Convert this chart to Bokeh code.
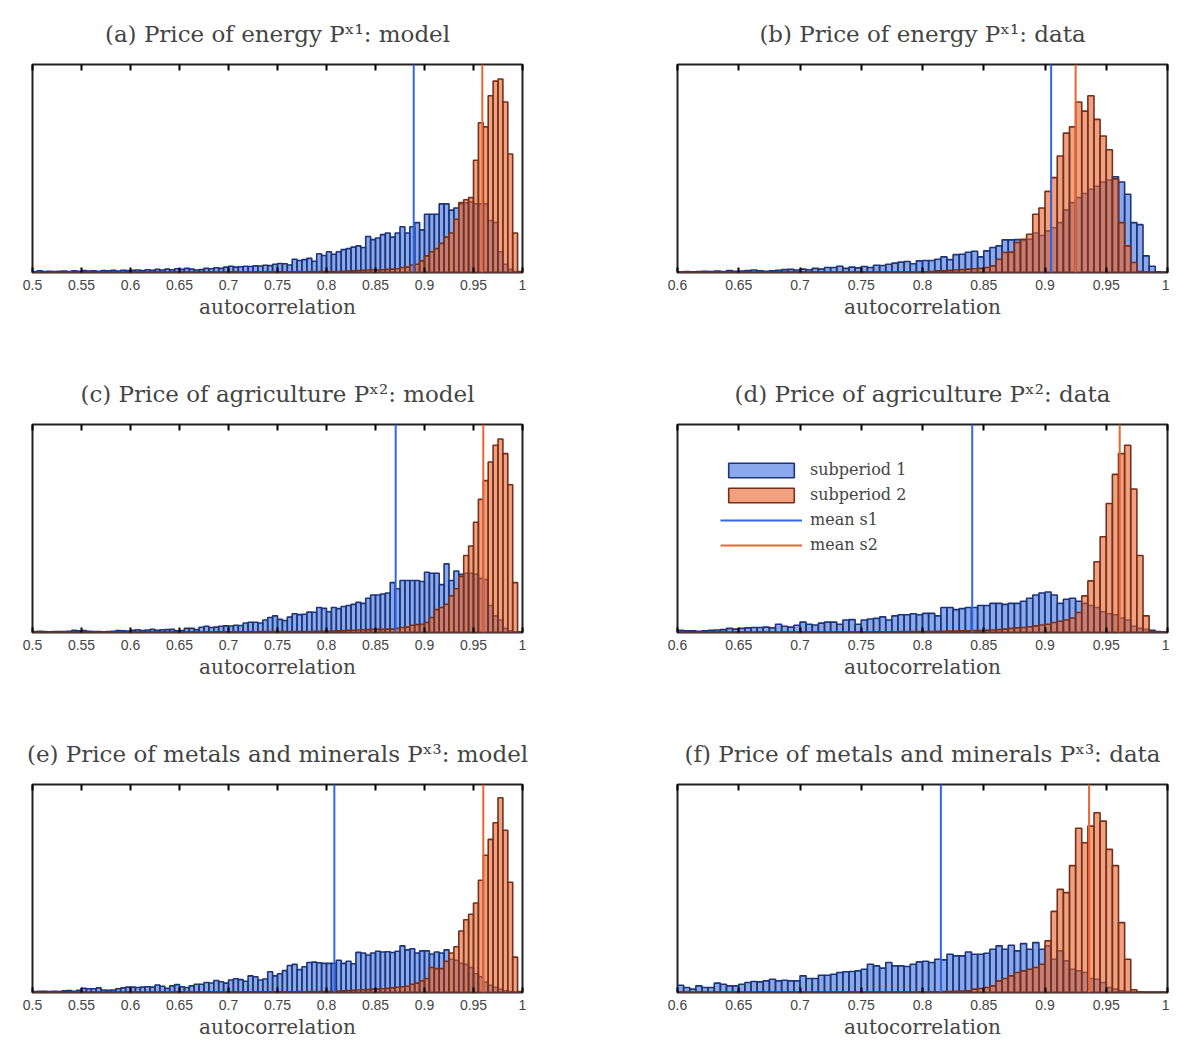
import numpy as np
from bokeh.plotting import figure
from bokeh.layouts import column, row
from bokeh.models import LinearAxis, FixedTicker, NumeralTickFormatter, Legend, LegendItem
from bokeh.embed import file_html
from bokeh.resources import INLINE

# histogram heights, in % of the y range; bins are 0.005 wide
# model panels: 100 bins from 0.5; data panels: 80 bins from 0.6
blue_a = [0.5,0.8,0.5,0.6,0.5,0.6,0.7,0.5,0.8,0.6,
          0.9,0.7,0.8,0.6,0.9,0.8,1.0,0.7,1.1,0.9,
          1.0,1.2,0.9,1.3,1.1,1.5,1.2,1.6,1.3,1.8,
          1.5,2.0,1.6,1.2,1.4,2.0,1.8,2.3,2.0,2.6,
          3.0,2.6,2.8,3.0,2.9,3.2,3.1,3.5,3.3,4.0,
          4.3,4.2,3.6,6.4,5.8,6.2,6.8,5.4,9.0,8.2,
          10.0,8.8,10.0,11.0,11.5,12.2,12.8,12.0,17.3,15.8,
          16.6,18.2,19.0,17.0,19.0,22.0,19.0,22.0,24.0,20.5,
          28.0,28.0,28.0,33.0,33.0,30.0,31.0,33.0,33.5,34.0,
          33.0,33.0,33.0,25.0,24.0,10.0,4.0,1.5,0.5,0.2]
orange_a = [0.2,0.2,0.1,0.2,0.2,0.1,0.2,0.2,0.2,0.1,
            0.2,0.1,0.2,0.2,0.1,0.2,0.2,0.2,0.1,0.2,
            0.2,0.2,0.1,0.2,0.2,0.2,0.2,0.1,0.2,0.2,
            0.2,0.2,0.2,0.2,0.2,0.2,0.2,0.2,0.2,0.2,
            0.2,0.3,0.2,0.3,0.2,0.3,0.3,0.3,0.3,0.3,
            0.3,0.3,0.3,0.3,0.4,0.3,0.4,0.4,0.4,0.4,
            0.4,0.5,0.5,0.6,0.7,0.8,0.9,1.0,1.2,1.3,
            1.2,1.3,1.5,1.6,1.8,2.4,2.6,3.6,4.0,5.6,
            8.0,10.0,11.5,14.0,17.0,19.0,25.6,33.6,35.0,36.0,
            54.0,72.0,70.0,85.0,92.0,93.0,82.0,57.0,19.0,0.5]

blue_b = [0.3,0.4,0.3,0.5,0.6,0.4,0.7,0.5,0.9,0.6,
          0.7,0.9,1.2,0.8,0.6,0.8,1.0,1.4,1.5,1.2,
          1.6,1.3,2.0,1.6,2.4,2.4,3.0,2.0,2.6,2.2,
          2.9,2.4,3.5,3.4,4.0,4.5,5.0,5.3,4.2,5.6,
          5.8,5.8,6.4,7.5,6.2,8.6,8.8,9.7,10.2,7.5,
          10.4,12.0,12.8,15.7,15.7,15.8,15.3,16.0,19.0,17.8,
          20.0,21.5,24.0,30.0,33.6,36.0,38.0,40.0,41.5,43.5,
          44.5,46.0,43.5,37.6,24.0,23.0,8.0,3.0,0.3,0.1]
orange_b = [0.2,0.2,0.1,0.2,0.2,0.1,0.2,0.2,0.1,0.2,
            0.2,0.2,0.1,0.2,0.2,0.2,0.1,0.2,0.2,0.2,
            0.2,0.2,0.2,0.2,0.2,0.2,0.2,0.2,0.2,0.2,
            0.2,0.2,0.2,0.2,0.2,0.2,0.2,0.2,0.2,0.2,
            0.3,0.5,0.8,0.8,1.0,1.2,1.4,1.6,1.8,2.0,
            2.4,3.2,6.4,9.6,9.8,14.4,16.0,18.4,28.0,31.0,
            39.0,45.6,56.0,67.0,70.0,82.0,77.6,85.0,73.6,65.6,
            59.0,45.0,24.0,12.8,4.8,0.5,0.2,0.1,0.1,0.1]

blue_c = [0.4,0.6,0.4,0.3,0.5,0.4,0.5,0.6,1.0,0.8,
          0.9,0.6,0.4,0.4,0.3,0.5,0.6,0.9,0.8,0.7,
          1.0,1.3,0.9,1.2,1.5,1.1,1.3,1.4,1.5,0.8,
          0.9,2.0,2.0,1.4,2.5,3.0,2.4,2.6,3.0,3.2,
          3.1,3.5,3.4,4.6,4.9,4.9,4.6,6.0,7.2,8.0,
          6.3,5.8,7.4,9.0,8.6,8.8,9.8,9.7,12.0,11.6,
          10.0,12.0,11.5,12.5,13.0,13.5,14.5,14.0,16.5,18.0,
          18.0,18.5,19.0,24.0,21.0,25.0,25.0,25.0,25.0,24.5,
          29.0,28.5,28.5,23.0,33.0,25.0,29.6,28.0,28.5,28.5,
          28.0,26.0,25.5,13.0,8.0,6.0,2.0,0.8,0.3,0.1]
orange_c = [0.2,0.2,0.1,0.2,0.2,0.1,0.2,0.2,0.2,0.1,
            0.2,0.1,0.2,0.2,0.1,0.2,0.2,0.2,0.1,0.2,
            0.2,0.2,0.1,0.2,0.2,0.2,0.2,0.1,0.2,0.2,
            0.2,0.2,0.2,0.2,0.2,0.3,0.2,0.3,0.3,0.3,
            0.3,0.3,0.3,0.3,0.4,0.3,0.4,0.4,0.4,0.4,
            0.4,0.4,0.5,0.5,0.5,0.5,0.5,0.6,0.6,0.6,
            0.6,0.7,0.8,0.9,1.0,1.1,1.2,1.3,1.4,1.5,
            1.5,1.5,1.6,1.6,2.0,2.4,2.6,3.5,3.8,4.0,
            4.8,7.2,11.0,12.0,13.6,17.6,21.0,27.0,37.0,41.6,
            53.0,64.0,73.0,82.0,90.0,93.0,86.0,71.0,24.0,0.3]

blue_d = [1.0,0.8,0.8,0.6,0.8,1.0,1.2,1.4,2.0,1.6,
          2.0,2.2,2.4,2.4,2.6,2.2,4.0,3.0,2.6,3.5,
          5.0,4.0,3.6,4.5,5.0,5.0,4.0,6.0,6.2,4.0,
          6.0,6.5,6.8,7.5,6.0,8.0,8.5,8.5,9.0,8.5,
          9.2,9.2,8.0,12.0,12.0,11.0,11.5,12.0,12.0,13.0,
          13.0,14.0,14.0,13.5,14.0,14.0,15.0,16.5,18.0,19.0,
          19.5,18.0,14.0,16.0,16.5,15.0,14.0,13.0,12.0,10.0,
          9.0,8.5,7.0,6.0,3.0,2.0,1.5,1.0,0.5,0.2]
orange_d = [0.2,0.2,0.1,0.2,0.2,0.1,0.2,0.2,0.1,0.2,
            0.2,0.2,0.1,0.2,0.2,0.2,0.1,0.2,0.2,0.2,
            0.2,0.2,0.2,0.2,0.2,0.2,0.2,0.2,0.2,0.2,
            0.2,0.2,0.3,0.3,0.3,0.3,0.4,0.4,0.4,0.5,
            0.5,0.5,0.6,0.6,0.7,0.7,0.8,0.8,0.9,0.9,
            1.0,1.2,1.4,1.6,2.0,2.2,2.4,2.8,3.2,3.6,
            4.0,4.8,5.4,6.0,7.0,9.6,17.6,24.8,34.0,46.0,
            62.0,76.0,86.0,90.0,69.0,37.0,8.0,0.3,0.1,0.1]

blue_e = [0.5,0.6,0.6,0.5,0.6,0.5,0.8,0.9,0.6,1.0,
          2.0,1.8,1.8,2.2,1.2,1.0,1.2,1.8,2.2,2.6,
          2.6,2.4,2.6,2.8,2.6,3.6,3.0,2.0,3.2,3.8,
          2.8,2.4,3.2,4.0,4.0,4.8,4.6,5.8,5.2,4.5,
          6.0,6.6,6.2,5.4,8.0,7.6,6.0,6.5,10.0,8.0,
          9.0,10.5,13.0,13.5,11.0,12.4,14.4,14.6,14.3,14.0,
          14.0,14.0,15.5,14.0,15.0,13.8,19.3,19.0,18.0,19.0,
          19.8,19.5,19.6,19.2,19.8,22.4,20.5,21.0,19.0,20.0,
          20.0,18.5,19.5,19.0,20.5,16.0,15.5,14.0,13.5,12.0,
          9.0,7.5,5.0,3.5,2.5,1.5,0.8,0.4,0.2,0.1]
orange_e = [0.2,0.2,0.1,0.2,0.2,0.1,0.2,0.2,0.2,0.1,
            0.2,0.1,0.2,0.2,0.1,0.2,0.2,0.2,0.1,0.2,
            0.2,0.2,0.1,0.2,0.2,0.2,0.2,0.1,0.2,0.2,
            0.2,0.2,0.2,0.2,0.2,0.2,0.2,0.2,0.2,0.2,
            0.2,0.3,0.2,0.3,0.2,0.3,0.3,0.3,0.3,0.3,
            0.3,0.3,0.3,0.3,0.4,0.3,0.4,0.4,0.4,0.4,
            0.5,0.6,0.7,0.8,0.9,1.0,1.2,1.3,1.4,1.6,
            1.6,1.8,2.0,2.2,2.5,2.8,3.0,4.0,4.5,5.6,
            6.7,12.0,11.5,11.5,15.0,19.0,22.0,29.6,35.0,37.6,
            43.0,54.0,66.0,73.6,81.6,93.6,78.0,53.0,17.0,0.5]

blue_f = [3.5,2.4,1.6,3.2,2.4,2.4,4.5,4.0,3.2,3.2,
          4.0,4.8,5.3,5.1,5.6,6.4,5.6,5.9,5.6,5.6,
          8.0,6.7,6.7,8.3,8.3,8.8,9.6,10.0,10.1,10.4,
          11.2,13.6,12.8,11.7,14.4,12.8,12.8,12.5,13.6,14.7,
          15.0,14.4,16.0,15.7,18.4,17.6,17.6,19.5,18.4,18.4,
          18.9,20.8,22.4,20.8,22.7,20.0,23.5,20.8,24.0,20.8,
          22.4,16.0,20.0,15.2,11.2,10.4,9.6,6.7,6.4,4.8,
          2.4,1.6,0.8,0.4,0.2,0.2,0.1,0.1,0.1,0.1]
orange_f = [0.2,0.2,0.1,0.2,0.2,0.1,0.2,0.2,0.1,0.2,
            0.2,0.2,0.1,0.2,0.2,0.2,0.1,0.2,0.2,0.2,
            0.2,0.2,0.2,0.2,0.2,0.2,0.2,0.2,0.2,0.2,
            0.2,0.2,0.2,0.2,0.2,0.2,0.2,0.2,0.2,0.2,
            0.2,0.3,0.3,0.4,0.5,0.6,0.7,0.8,1.6,1.9,
            2.4,3.2,5.6,6.7,8.0,9.6,10.4,11.2,12.0,13.6,
            24.8,39.0,49.6,48.0,61.0,79.0,72.0,80.0,86.4,82.4,
            68.8,61.0,33.6,16.0,1.3,0.2,0.1,0.1,0.1,0.1]

titles = ["(a) Price of energy Pˣ¹: model", "(b) Price of energy Pˣ¹: data",
          "(c) Price of agriculture Pˣ²: model", "(d) Price of agriculture Pˣ²: data",
          "(e) Price of metals and minerals Pˣ³: model", "(f) Price of metals and minerals Pˣ³: data"]
mean_s1 = [0.889, 0.905, 0.8706, 0.8406, 0.808, 0.815]
mean_s2 = [0.959, 0.925, 0.960, 0.961, 0.960, 0.936]
ticks_model = [0.5, 0.55, 0.6, 0.65, 0.7, 0.75, 0.8, 0.85, 0.9, 0.95, 1.0]
ticks_data = [0.6, 0.65, 0.7, 0.75, 0.8, 0.85, 0.9, 0.95, 1.0]
bin_w = 0.005

SERIF = "DejaVu Serif"
BLUE_FILL, BLUE_EDGE = "#3a6fe0", "#1c3578"
ORA_FILL, ORA_EDGE = "#e8622a", "#74301a"
BLUE_LINE, ORA_LINE = "#3366e6", "#ec6430"


def panel(i, blue, orange, x0, ticks, left_col, last_row):
    p = figure(frame_width=490, frame_height=208, x_range=(x0, 1.0), y_range=(0, 100),
               output_backend="svg", toolbar_location=None,
               min_border_top=0, min_border_bottom=46 if last_row else 88,
               min_border_left=32 if left_col else 147, min_border_right=8 if left_col else 2)
    p.title.text = titles[i]
    p.title.text_font = SERIF
    p.title.text_font_style = "normal"
    p.title.text_font_size = "23px"
    p.title.align = "center"
    p.title.standoff = 36
    p.grid.visible = False
    p.yaxis.visible = False
    p.outline_line_color = "#222222"
    p.outline_line_width = 2
    p.outline_line_alpha = 1

    left = x0 + bin_w * np.arange(len(blue))
    rb = p.quad(left=left, right=left + bin_w, bottom=0, top=blue,
                fill_color=BLUE_FILL, fill_alpha=0.6, line_color=BLUE_EDGE, line_width=1.6)
    ro = p.quad(left=left, right=left + bin_w, bottom=0, top=orange,
                fill_color=ORA_FILL, fill_alpha=0.6, line_color=ORA_EDGE, line_width=1.6)
    l1 = p.line([mean_s1[i]] * 2, [0, 100], line_color=BLUE_LINE, line_width=2)
    l2 = p.line([mean_s2[i]] * 2, [0, 100], line_color=ORA_LINE, line_width=2)

    ax = p.xaxis[0]
    ax.ticker = FixedTicker(ticks=ticks)
    ax.formatter = NumeralTickFormatter(format="0.[00]")
    ax.axis_line_color = None
    ax.major_tick_in, ax.major_tick_out = 5, 0
    ax.major_tick_line_width = 2
    ax.minor_tick_line_color = None
    ax.major_label_text_font = "Liberation Sans"
    ax.major_label_text_font_size = "14px"
    ax.major_label_standoff = 7
    ax.axis_label = "autocorrelation"
    ax.axis_label_text_font = SERIF
    ax.axis_label_text_font_size = "20px"
    ax.axis_label_text_font_style = "normal"
    ax.axis_label_standoff = 2

    top = LinearAxis(ticker=FixedTicker(ticks=ticks), axis_line_color=None,
                     major_tick_in=6, major_tick_out=0, major_tick_line_width=2,
                     minor_tick_line_color=None, major_label_text_font_size="0px",
                     major_label_standoff=0)
    p.add_layout(top, "above")

    if i == 3:
        leg = Legend(items=[LegendItem(label="subperiod 1", renderers=[rb]),
                            LegendItem(label="subperiod 2", renderers=[ro]),
                            LegendItem(label="mean s1", renderers=[l1]),
                            LegendItem(label="mean s2", renderers=[l2])],
                     location=(43, 78), border_line_color=None, background_fill_alpha=0,
                     glyph_width=82, glyph_height=18, spacing=6, padding=4,
                     label_text_font=SERIF, label_text_font_size="16px",
                     label_standoff=8)
        p.add_layout(leg, "center")
    return p


panels = [panel(0, blue_a, orange_a, 0.5, ticks_model, True, False),
          panel(1, blue_b, orange_b, 0.6, ticks_data, False, False),
          panel(2, blue_c, orange_c, 0.5, ticks_model, True, False),
          panel(3, blue_d, orange_d, 0.6, ticks_data, False, False),
          panel(4, blue_e, orange_e, 0.5, ticks_model, True, True),
          panel(5, blue_f, orange_f, 0.6, ticks_data, False, True)]

layout = column(row(panels[0], panels[1]), row(panels[2], panels[3]), row(panels[4], panels[5]))
open("out.html", "w").write(file_html(layout, INLINE))
